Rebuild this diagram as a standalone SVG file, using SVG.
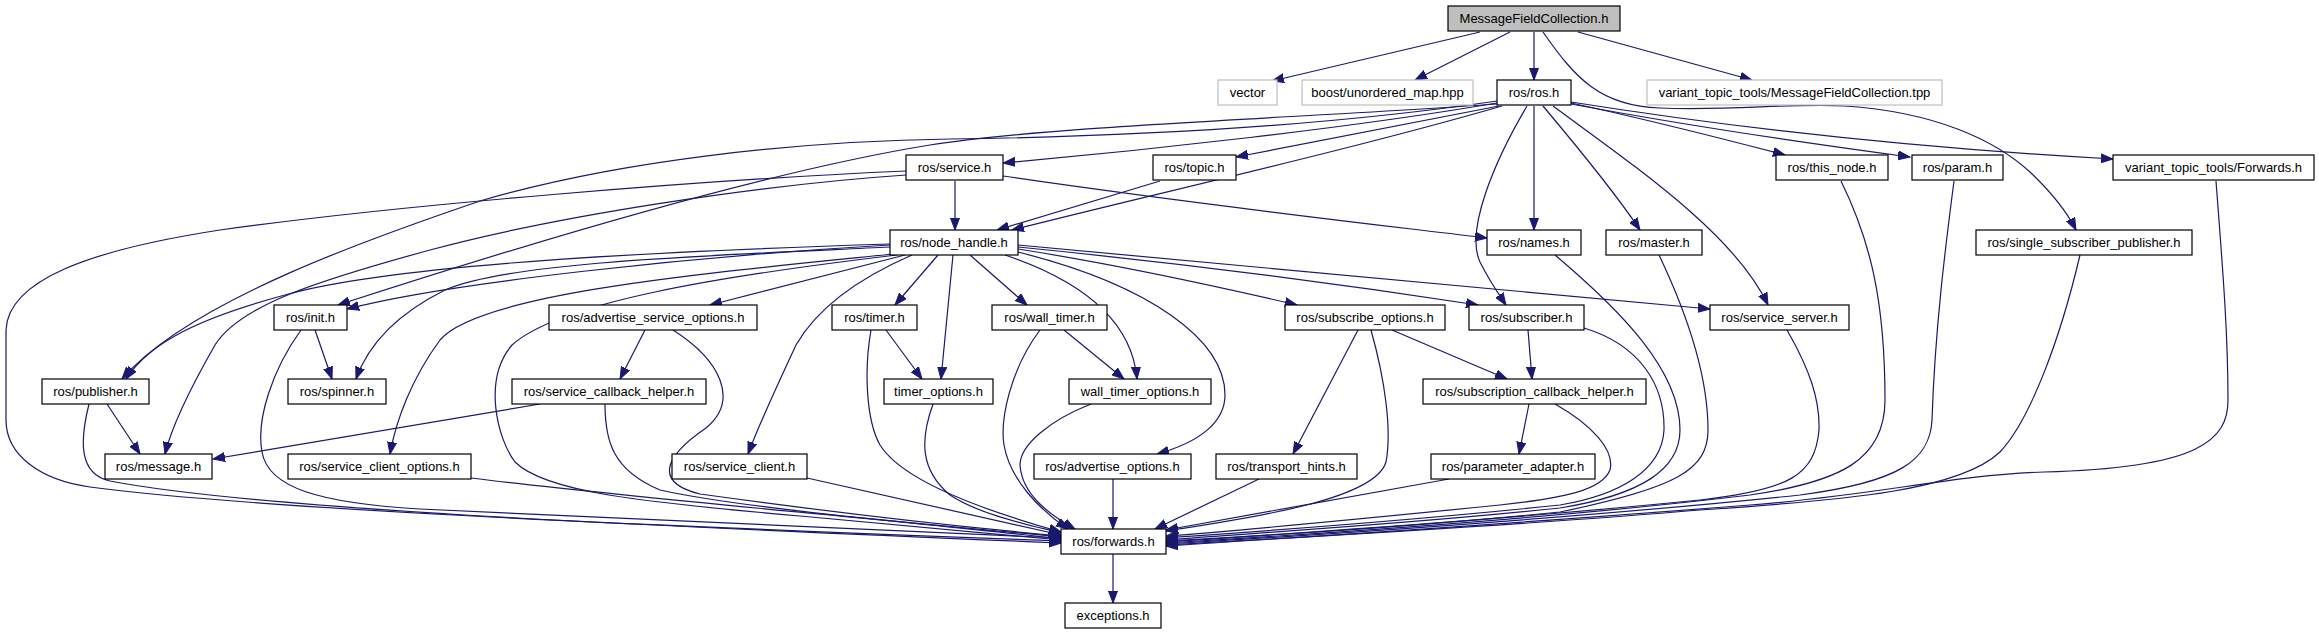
<svg xmlns="http://www.w3.org/2000/svg" width="2319" height="635" viewBox="0 0 2319 635">
<style>
.n rect{fill:#ffffff;stroke:#000000;stroke-width:1.2}
.n text{font-family:"Liberation Sans",Arial,sans-serif;font-size:13px;fill:#000000;text-anchor:middle}
.root rect{fill:#bfbfbf}
.ext rect{stroke:#bfbfbf}
.e path{fill:none;stroke:#191970;stroke-width:1.2;marker-end:url(#ah)}
</style>
<defs>
<marker id="ah" markerUnits="userSpaceOnUse" markerWidth="13" markerHeight="10" refX="12" refY="5" orient="auto">
<path d="M0,0.5 L12,5 L0,9.5 z" fill="#191970" stroke="#191970" stroke-width="1"/>
</marker>
</defs>
<rect width="2319" height="635" fill="#ffffff"/>
<g id="connectors" class="e">
<path d="M1480,32 L1272,81"/>
<path d="M1510,32 L1415,80"/>
<path d="M1534,32 L1534,80"/>
<path d="M1578,32 L1752,80"/>
<path d="M1543,32 C1575,78 1600,106 1660,108 C1730,111 1790,103 1845,106 C1935,112 1995,140 2030,172 C2052,193 2066,210 2076,230"/>
<path d="M1497,103 C1350,128 1150,150 1003,163"/>
<path d="M1499,106 L1236,157"/>
<path d="M1502,106 C1350,150 1150,195 1012,230"/>
<path d="M1497,101 C1300,130 1100,137 950,139 C800,141 620,160 480,201 C380,235 190,300 122,379"/>
<path d="M1497,104 C1300,118 1050,126 930,145 C800,166 600,220 338,305"/>
<path d="M1543,106 C1580,150 1620,200 1640,230"/>
<path d="M1553,106 C1640,170 1735,235 1768,305"/>
<path d="M1571,103 C1650,120 1720,138 1785,155"/>
<path d="M1571,104 C1700,128 1820,145 1910,157"/>
<path d="M1571,102 C1760,132 1950,150 2113,159"/>
<path d="M1534,106 L1534,230"/>
<path d="M1527,106 C1495,160 1465,230 1480,262 C1490,282 1498,293 1506,305"/>
<path d="M955,181 L955,230"/>
<path d="M1003,176 C1200,205 1380,225 1487,238"/>
<path d="M906,171 C700,180 400,205 220,230 C90,250 8,280 6,330 L6,420 C6,455 40,480 90,487 C250,508 600,524 1061,541"/>
<path d="M906,175 C760,185 560,215 430,250 C320,280 240,305 215,345 C195,380 172,425 165,454"/>
<path d="M1160,181 L997,230"/>
<path d="M890,244 C700,250 400,262 285,295 C200,318 150,342 126,379"/>
<path d="M890,245 C700,256 450,282 347,309"/>
<path d="M890,247 C700,256 510,262 445,290 C395,315 368,345 356,379"/>
<path d="M905,255 L710,305"/>
<path d="M893,254 C720,272 480,292 440,340 C412,378 396,420 390,454"/>
<path d="M912,255 C850,282 815,312 796,345 C775,390 760,422 748,454"/>
<path d="M897,255 C720,276 560,302 512,345 C482,380 498,440 515,462 C545,492 640,502 800,516 C920,527 1000,534 1061,540"/>
<path d="M938,255 L895,305"/>
<path d="M953,255 L941,379"/>
<path d="M970,255 L1027,305"/>
<path d="M1005,255 C1085,282 1132,322 1137,379"/>
<path d="M1018,252 C1150,285 1225,340 1225,395 C1225,422 1200,442 1157,454"/>
<path d="M1018,249 C1120,265 1220,287 1297,305"/>
<path d="M1018,247 C1200,265 1380,290 1478,305"/>
<path d="M1018,245 C1300,273 1550,295 1710,309"/>
<path d="M315,330 L332,379"/>
<path d="M301,330 C272,370 256,420 262,452 C268,488 320,503 420,509 C650,520 900,530 1061,538"/>
<path d="M645,330 L620,379"/>
<path d="M673,330 C720,360 740,400 706,428 C662,458 655,483 700,494 C830,512 950,526 1061,536"/>
<path d="M886,330 L922,379"/>
<path d="M871,330 C864,370 866,420 880,445 C905,485 1000,515 1061,532"/>
<path d="M1064,330 L1124,379"/>
<path d="M1040,330 C1010,370 1000,420 1004,445 C1010,480 1040,510 1068,529"/>
<path d="M1358,330 L1293,454"/>
<path d="M1392,330 L1507,379"/>
<path d="M1371,330 C1385,380 1392,430 1386,462 C1375,500 1250,518 1166,531"/>
<path d="M1528,330 L1532,379"/>
<path d="M1584,328 C1640,345 1665,385 1664,430 C1662,470 1620,495 1560,505 C1400,522 1250,532 1166,538"/>
<path d="M1787,330 C1810,370 1820,400 1819,430 C1815,475 1790,490 1700,500 C1500,520 1300,533 1166,542"/>
<path d="M107,404 L140,454"/>
<path d="M89,404 C80,440 78,474 110,481 C250,508 600,524 1061,543"/>
<path d="M540,404 L213,459"/>
<path d="M605,404 C605,440 612,470 660,490 C750,510 950,526 1061,537"/>
<path d="M933,404 C920,440 920,470 950,495 C980,515 1030,525 1061,533"/>
<path d="M1091,404 C1050,420 1020,445 1020,465 C1022,495 1050,515 1075,529"/>
<path d="M1529,404 L1519,454"/>
<path d="M1555,404 C1592,425 1615,450 1610,470 C1602,490 1565,498 1500,505 C1350,520 1250,530 1166,536"/>
<path d="M471,478 C650,500 900,520 1061,539"/>
<path d="M807,478 L1061,535"/>
<path d="M1113,479 L1113,529"/>
<path d="M1259,479 L1155,529"/>
<path d="M1449,479 L1166,530"/>
<path d="M1555,255 C1620,310 1680,370 1680,430 C1680,470 1640,495 1560,508 C1400,525 1250,533 1166,540"/>
<path d="M1659,255 C1690,320 1708,380 1708,430 C1708,470 1676,488 1560,512 C1400,528 1260,536 1166,541"/>
<path d="M1841,181 C1870,240 1885,300 1885,400 C1885,460 1840,482 1750,495 C1560,518 1300,535 1166,543"/>
<path d="M1954,181 C1945,250 1935,330 1932,420 C1930,460 1900,482 1800,495 C1560,520 1300,536 1166,544"/>
<path d="M2080,255 C2060,340 2030,420 2000,452 C1960,490 1850,500 1700,510 C1500,527 1300,537 1166,545"/>
<path d="M2216,181 C2222,260 2228,330 2228,400 C2228,440 2200,468 2044,472 C1950,475 1880,495 1750,505 C1500,525 1300,537 1166,546"/>
<path d="M1113,554 L1113,603"/>
</g>
<g id="n_root" class="n root"><rect x="1448" y="6" width="172" height="25"/><text x="1534" y="23">MessageFieldCollection.h</text></g>
<g id="n_vector" class="n ext"><rect x="1218" y="80" width="59" height="25"/><text x="1247.5" y="97">vector</text></g>
<g id="n_boost" class="n ext"><rect x="1302" y="80" width="171" height="25"/><text x="1387.5" y="97">boost/unordered_map.hpp</text></g>
<g id="n_ros" class="n"><rect x="1497" y="80" width="74" height="25"/><text x="1534" y="97">ros/ros.h</text></g>
<g id="n_tpp" class="n ext"><rect x="1647" y="80" width="295" height="25"/><text x="1794.5" y="97">variant_topic_tools/MessageFieldCollection.tpp</text></g>
<g id="n_service" class="n"><rect x="906" y="155" width="97" height="25"/><text x="954.5" y="172">ros/service.h</text></g>
<g id="n_topic" class="n"><rect x="1153" y="155" width="83" height="25"/><text x="1194.5" y="172">ros/topic.h</text></g>
<g id="n_this_node" class="n"><rect x="1776" y="155" width="112" height="25"/><text x="1832" y="172">ros/this_node.h</text></g>
<g id="n_param" class="n"><rect x="1912" y="155" width="91" height="25"/><text x="1957.5" y="172">ros/param.h</text></g>
<g id="n_vt_forwards" class="n"><rect x="2113" y="155" width="201" height="25"/><text x="2213.5" y="172">variant_topic_tools/Forwards.h</text></g>
<g id="n_node_handle" class="n"><rect x="890" y="230" width="128" height="25"/><text x="954" y="247">ros/node_handle.h</text></g>
<g id="n_names" class="n"><rect x="1487" y="230" width="94" height="25"/><text x="1534" y="247">ros/names.h</text></g>
<g id="n_master" class="n"><rect x="1606" y="230" width="96" height="25"/><text x="1654" y="247">ros/master.h</text></g>
<g id="n_ssp" class="n"><rect x="1976" y="230" width="216" height="25"/><text x="2084" y="247">ros/single_subscriber_publisher.h</text></g>
<g id="n_init" class="n"><rect x="274" y="305" width="73" height="25"/><text x="310.5" y="322">ros/init.h</text></g>
<g id="n_aso" class="n"><rect x="549" y="305" width="208" height="25"/><text x="653" y="322">ros/advertise_service_options.h</text></g>
<g id="n_timer" class="n"><rect x="832" y="305" width="85" height="25"/><text x="874.5" y="322">ros/timer.h</text></g>
<g id="n_wall_timer" class="n"><rect x="992" y="305" width="115" height="25"/><text x="1049.5" y="322">ros/wall_timer.h</text></g>
<g id="n_subscribe_options" class="n"><rect x="1285" y="305" width="160" height="25"/><text x="1365" y="322">ros/subscribe_options.h</text></g>
<g id="n_subscriber" class="n"><rect x="1469" y="305" width="115" height="25"/><text x="1526.5" y="322">ros/subscriber.h</text></g>
<g id="n_service_server" class="n"><rect x="1710" y="305" width="139" height="25"/><text x="1779.5" y="322">ros/service_server.h</text></g>
<g id="n_publisher" class="n"><rect x="42" y="379" width="107" height="25"/><text x="95.5" y="396">ros/publisher.h</text></g>
<g id="n_spinner" class="n"><rect x="288" y="379" width="98" height="25"/><text x="337" y="396">ros/spinner.h</text></g>
<g id="n_sch" class="n"><rect x="512" y="379" width="194" height="25"/><text x="609" y="396">ros/service_callback_helper.h</text></g>
<g id="n_timer_options" class="n"><rect x="884" y="379" width="109" height="25"/><text x="938.5" y="396">timer_options.h</text></g>
<g id="n_wto" class="n"><rect x="1069" y="379" width="142" height="25"/><text x="1140" y="396">wall_timer_options.h</text></g>
<g id="n_scbh" class="n"><rect x="1423" y="379" width="223" height="25"/><text x="1534.5" y="396">ros/subscription_callback_helper.h</text></g>
<g id="n_message" class="n"><rect x="105" y="454" width="107" height="25"/><text x="158.5" y="471">ros/message.h</text></g>
<g id="n_sco" class="n"><rect x="288" y="454" width="183" height="25"/><text x="379.5" y="471">ros/service_client_options.h</text></g>
<g id="n_service_client" class="n"><rect x="672" y="454" width="135" height="25"/><text x="739.5" y="471">ros/service_client.h</text></g>
<g id="n_advertise_options" class="n"><rect x="1034" y="454" width="157" height="25"/><text x="1112.5" y="471">ros/advertise_options.h</text></g>
<g id="n_transport_hints" class="n"><rect x="1216" y="454" width="141" height="25"/><text x="1286.5" y="471">ros/transport_hints.h</text></g>
<g id="n_parameter_adapter" class="n"><rect x="1431" y="454" width="164" height="25"/><text x="1513" y="471">ros/parameter_adapter.h</text></g>
<g id="n_forwards" class="n"><rect x="1061" y="529" width="105" height="25"/><text x="1113.5" y="546">ros/forwards.h</text></g>
<g id="n_exceptions" class="n"><rect x="1065" y="603" width="96" height="25"/><text x="1113" y="620">exceptions.h</text></g>
</svg>
